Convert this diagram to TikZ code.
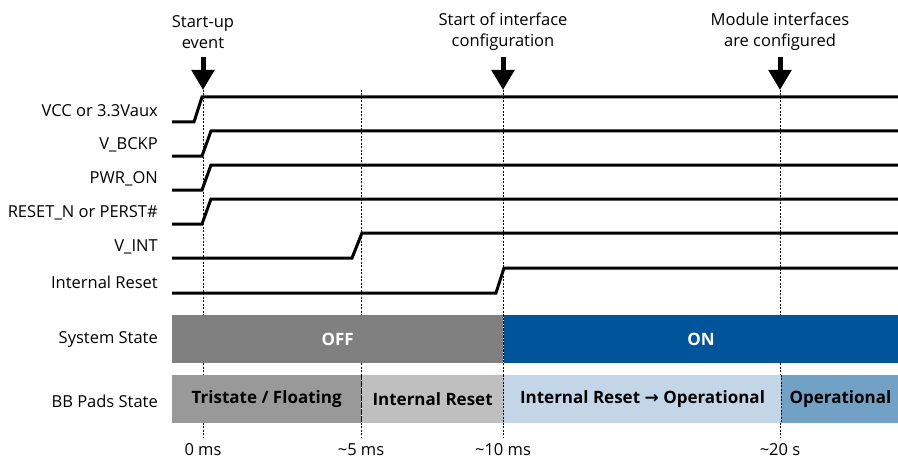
\documentclass[tikz,border=0pt]{standalone}
\usepackage{fontspec}
\setmainfont{Open Sans}
\newfontfamily\arrowfont{DejaVu Sans}
\usetikzlibrary{arrows.meta,positioning}

\definecolor{offgray}{HTML}{808080}
\definecolor{onblue}{HTML}{00559A}
\definecolor{floatgray}{HTML}{999999}
\definecolor{resetgray}{HTML}{BFBFBF}
\definecolor{paleblue}{HTML}{C2D6E8}
\definecolor{opblue}{HTML}{72A1C6}

\begin{document}
\begin{tikzpicture}[x=1pt,y=-1pt,
  sig/.style={line width=3pt},
  timeline/.style={line width=0.8pt, dash pattern=on 2pt off 1.5pt},
  siglabel/.style={anchor=east, inner sep=0pt, font=\fontsize{16.5}{18}\selectfont},
  evlabel/.style={align=center, inner sep=0pt, font=\fontsize{16.5}{21}\selectfont},
  evarrow/.style={line width=5pt, -{Triangle[width=22pt,length=20pt]}},
  statebox/.style={anchor=west, minimum height=48pt, inner sep=0pt, font=\fontsize{17}{18}\selectfont\bfseries}]

  \useasboundingbox (0,0) rectangle (898,460);

  % Define nodes
  \coordinate (t0) at (203,0);
  \coordinate (t5) at (361,0);
  \coordinate (t10) at (503,0);
  \coordinate (t20) at (780,0);

  % Time markers
  \foreach \t/\txt in {t0/0 ms, t5/{\char`\~5 ms}, t10/{\char`\~10 ms}, t20/{\char`\~20 s}} {
    \draw[timeline] (\t |- 0,90) -- (\t |- 0,437);
    \node[siglabel, anchor=center] (lbl\t) at (\t |- 0,450) {\txt};
  }

  % Events
  \foreach \t/\txt in {t0/{Start-up\\event}, t10/{Start of interface\\configuration}, t20/{Module interfaces\\are configured}} {
    \node[evlabel] (ev\t) at (\t |- 0,32) {\txt};
    \coordinate (evtop\t) at (\t |- 0,57);
    \coordinate (evtip\t) at (\t |- 0,90);
    \draw[evarrow] (evtop\t) -- (evtip\t);
  }

  % Signals
  \foreach \n/\txt/\yl/\xa/\xb in {vcc/VCC or 3.3Vaux/122/194/202,
      vbckp/V\_BCKP/156/202/211,
      pwron/PWR\_ON/190/202/211,
      resetn/RESET\_N or PERST\#/224/202/211,
      vint/V\_INT/258/352/362,
      ireset/Internal Reset/293/496/504} {
    \node[siglabel] (\n) at (158,\yl-11) {\txt};
    \draw[sig] (172,\yl) -- (\xa,\yl) -- (\xb,\yl-25) -- (898,\yl-25);
  }

  % States
  \node[siglabel] (sysstate) at (158,340) {System State};
  \node[siglabel] (bbstate) at (158,401) {BB Pads State};

  \node[statebox, fill=offgray, text=white, minimum width=331pt] (off) at (172,339) {OFF};
  \node[statebox, fill=onblue, text=white, minimum width=395pt, right=0pt of off] (on) {ON};

  \node[statebox, fill=floatgray, minimum width=189pt] (float) at (172,399) {Tristate / Floating};
  \node[statebox, fill=resetgray, minimum width=142pt, right=0pt of float] (reset) {Internal Reset};
  \node[statebox, fill=paleblue, minimum width=277pt, right=0pt of reset] (toop) {Internal Reset {\arrowfont\bfseries →} Operational};
  \node[statebox, fill=opblue, minimum width=118pt, right=0pt of toop] (op) {Operational};

  % Boundaries
  \draw[timeline] (off.north east) -- (off.south east);
  \draw[timeline] (float.north east) -- (float.south east);
  \draw[timeline] (reset.north east) -- (reset.south east);
  \draw[timeline] (toop.north east) -- (toop.south east);

\end{tikzpicture}
\end{document}
